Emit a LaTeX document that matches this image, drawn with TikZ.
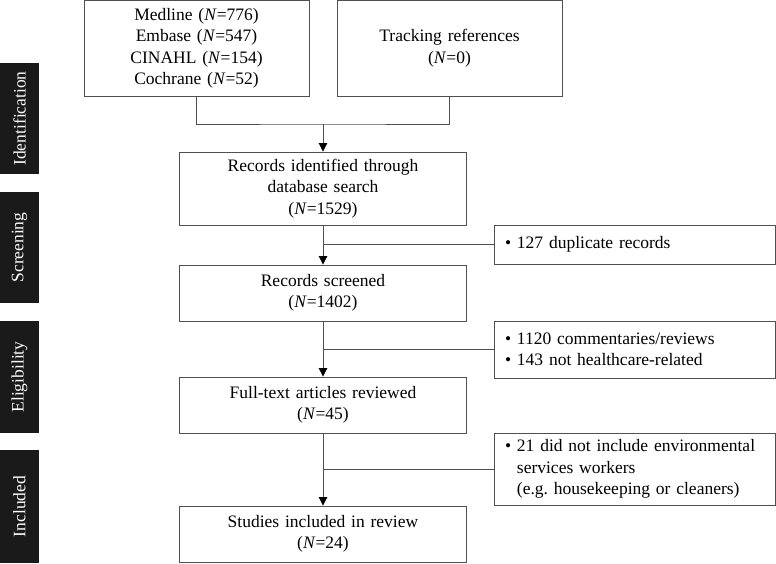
\documentclass[tikz,border=0pt]{standalone}
\usepackage{fontspec}
\setmainfont{Liberation Serif}
\usetikzlibrary{arrows.meta}

\definecolor{linegray}{RGB}{80,80,80}
\definecolor{barblack}{RGB}{26,26,26}
\newcommand{\nval}[1]{(\textit{N}=#1)}
\newcommand{\hang}{\hphantom{\textbullet~}}

\tikzset{
  box/.style={draw=linegray, line width=0.9pt, inner sep=0pt, align=center,
    font=\fontsize{17.5}{21.5}\selectfont},
  mainbox/.style={box, minimum width=287pt, text width=280pt},
  srcbox/.style={box, minimum width=225pt, minimum height=95.5pt, text width=215pt},
  exclbox/.style={box, align=left, minimum width=281.5pt, text width=259.5pt, inner xsep=11pt},
  stage/.style={fill=barblack, text=white, rotate=90, minimum height=39pt, inner sep=0pt,
    font=\fontsize{17.5}{21.5}\selectfont},
  conn/.style={draw=linegray, line width=0.9pt},
  arr/.style={conn, -{Triangle[width=8.5pt,length=8.5pt,color=black]}}
}

\begin{document}
\begin{tikzpicture}[x=1pt, y=-1pt]
  \useasboundingbox (0,0) rectangle (776,563);

  % stage bars
  \node[stage, minimum width=111pt] (identbar) at (19.5,118.5) {Identification};
  \node[stage, minimum width=111pt] (screenbar) at (19.5,247.5) {Screening};
  \node[stage, minimum width=112pt] (eligbar) at (19.5,377) {Eligibility};
  \node[stage, minimum width=113pt] (inclbar) at (19.5,506.5) {Included};

  % sources
  \node[srcbox] (databases) at (196.5,48.25)
  {
    Medline \nval{776}\\
    Embase \nval{547}\\
    CINAHL \nval{154}\\
    Cochrane \nval{52}
  };
  \node[srcbox] (tracking) at (449.5,48.25)
  {
    Tracking references\\
    \nval{0}
  };

  % main flow
  \node[mainbox, minimum height=73pt] (identified) at (323,188.5)
  {
    Records identified through\\
    database search\\
    \nval{1529}
  };
  \node[mainbox, minimum height=56pt] (screened) at (323,293)
  {
    Records screened\\
    \nval{1402}
  };
  \node[mainbox, minimum height=56pt] (fulltext) at (323,405)
  {
    Full-text articles reviewed\\
    \nval{45}
  };
  \node[mainbox, minimum height=56pt] (included) at (323,534)
  {
    Studies included in review\\
    \nval{24}
  };

  % exclusions
  \node[exclbox, minimum height=39pt] (duplicates) at (634.75,244.5)
  {
    \textbullet~127 duplicate records
  };
  \node[exclbox, minimum height=57pt] (notrelevant) at (634.75,349.5)
  {
    \textbullet~1120 commentaries/reviews\\
    \textbullet~143 not healthcare-related
  };
  \node[exclbox, minimum height=72pt] (noevs) at (634.75,469)
  {
    \textbullet~21 did not include environmental\\
    \hang services workers\\
    \hang (e.g.\ housekeeping or cleaners)
  };

  % connectors
  \coordinate (merge) at (323,124);
  \draw[conn] (databases.south) |- (merge) -| (tracking.south);
  \draw[arr] (merge) -- (identified.north);

  \draw[arr] (identified) -- (screened);
  \draw[conn] (identified.south |- duplicates.west) -- (duplicates.west);

  \draw[arr] (screened) -- (fulltext);
  \draw[conn] (screened.south |- notrelevant.west) -- (notrelevant.west);

  \draw[arr] (fulltext) -- (included);
  \draw[conn] (fulltext.south |- noevs.west) -- (noevs.west);

\end{tikzpicture}
\end{document}
